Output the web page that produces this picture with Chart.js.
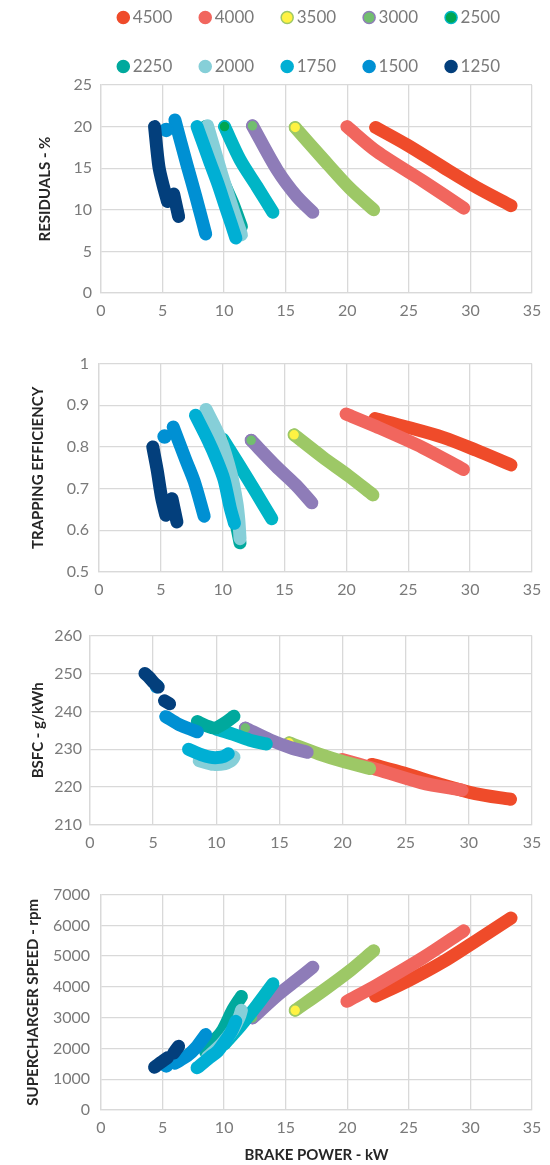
<!DOCTYPE html>
<html>
<head>
<meta charset="utf-8">
<script src="https://cdn.jsdelivr.net/npm/chart.js@4.4.1/dist/chart.umd.min.js"></script>
<style>
  body { margin: 0; background: #fff; width: 550px; height: 1165px; position: relative; overflow: hidden; }
  .box { position: absolute; left: 0; width: 550px; }
</style>
</head>
<body>
<div class="box" style="top:-23px;height:346px"><canvas id="residuals"></canvas></div>
<div class="box" style="top:344px;height:258px"><canvas id="trapping"></canvas></div>
<div class="box" style="top:618px;height:237px"><canvas id="bsfc"></canvas></div>
<div class="box" style="top:874px;height:291px"><canvas id="speed"></canvas></div>
<script>
// engine speeds (rpm), one series each
const seriesNames = ['4500', '4000', '3500', '3000', '2500', '2250', '2000', '1750', '1500', '1250'];

// brake power, kW (null = gap between pieces)
const power4500 = [22.3, 24.85, 27.8, 30.5, 33.3];
const power4000 = [19.97, 22.4, 26.2, 29.46];
const power3500 = [15.77, 18.1, 20.2, 22.14];
const power3000 = [12.3, 14.3, 15.9, 17.2];
const power2500 = [10.03, 11.3, 12.66, 13.96];
const power2250 = [8.5, 9.2, 9.9, 10.7, 11.4];
const power2000 = [8.65, 9.8, 10.7, 11.15, 11.3, 11.4];
const power1750 = [7.8, 8.8, 9.5, 10.1, 10.6, 10.95];
const power1500 = [5.3, null, 6.0, 7.0, 7.7, 8.5];
const power1250 = [4.35, 4.7, 5.05, 5.4, null, 5.9, 6.3];

// residuals, %
const res4500 = [19.9, 17.8, 15.1, 12.7, 10.5];
const res4000 = [20, 17, 13.4, 10.2];
const res3500 = [19.9, 16, 12.6, 10];
const res3000 = [20.1, 14.8, 11.6, 9.7];
const res2500 = [20, 16, 12.8, 9.7];
const res2250 = [20, 16.5, 13.5, 10.8, 8.0];
const res2000 = [20.1, 14.3, 10.1, 8.1, 7.5, 7.0];
const res1750 = [20, 15.9, 13.1, 10.4, 8.2, 6.6];
const res1500 = [19.6, null, 20.8, 15.3, 11.6, 7.1];
const res1250 = [20, 15.2, 12.9, 11.0, null, 11.9, 9.2];

// trapping efficiency
const trap4500 = [0.868, 0.848, 0.823, 0.792, 0.757];
const trap4000 = [0.879, 0.849, 0.798, 0.746];
const trap3500 = [0.829, 0.775, 0.73, 0.685];
const trap3000 = [0.816, 0.754, 0.709, 0.666];
const trap2500 = [0.818, 0.758, 0.692, 0.628];
const trap2250 = [0.87, 0.82, 0.76, 0.67, 0.57];
const trap2000 = [0.89, 0.82, 0.733, 0.665, 0.625, 0.58];
const trap1750 = [0.876, 0.817, 0.77, 0.722, 0.655, 0.617];
const trap1500 = [0.825, null, 0.848, 0.77, 0.717, 0.634];
const trap1250 = [0.80, 0.745, 0.68, 0.636, null, 0.676, 0.62];

// BSFC, g/kWh
const bsfc4500 = [226.0, 223.7, 220.7, 218.3, 216.8];
const bsfc4000 = [227.3, 225.0, 221.2, 219.2];
const bsfc3500 = [231.7, 228.8, 226.6, 224.9];
const bsfc3000 = [235.6, 232.4, 230.4, 229.2];
const bsfc2500 = [235.3, 234.0, 232.4, 231.4];
const bsfc2250 = [237.3, 236.2, 235.6, 237.0, 238.7];
const bsfc2000 = [227.0, 226.0, 226.2, 226.9, 227.4, 228.0];
const bsfc1750 = [230.0, 228.6, 227.9, 227.8, 228.1, 228.8];
const bsfc1500 = [246.6, null, 238.6, 236.6, 235.6, 234.6];
const bsfc1250 = [250.0, 248.9, 247.6, 246.4, null, 242.8, 242.0];

// supercharger speed, rpm
const rpm4500 = [3700, 4180, 4820, 5510, 6240];
const rpm4000 = [3531, 4060, 4960, 5823];
const rpm3500 = [3240, 3896, 4521, 5177];
const rpm3000 = [2990, 3720, 4230, 4640];
const rpm2500 = [2150, 2720, 3400, 4100];
const rpm2250 = [1880, 2250, 2600, 3250, 3690];
const rpm2000 = [1720, 2150, 2600, 2950, 3100, 3240];
const rpm1750 = [1370, 1700, 1920, 2250, 2560, 2880];
const rpm1500 = [1450, null, 1520, 1760, 2020, 2450];
const rpm1250 = [1390, 1500, 1600, 1700, null, 1850, 2070];

const powers = [power4500, power4000, power3500, power3000, power2500, power2250, power2000, power1750, power1500, power1250];
const residuals = [res4500, res4000, res3500, res3000, res2500, res2250, res2000, res1750, res1500, res1250];
const trapping = [trap4500, trap4000, trap3500, trap3000, trap2500, trap2250, trap2000, trap1750, trap1500, trap1250];
const bsfc = [bsfc4500, bsfc4000, bsfc3500, bsfc3000, bsfc2500, bsfc2250, bsfc2000, bsfc1750, bsfc1500, bsfc1250];
const speed = [rpm4500, rpm4000, rpm3500, rpm3000, rpm2500, rpm2250, rpm2000, rpm1750, rpm1500, rpm1250];

const lineColors = ['#ef4b2a', '#f1665e', '#9dc866', '#8e7cb8', '#00b5c6', '#00a99d', '#86cfd8', '#00afd4', '#0090d3', '#033f7c'];
const markerFills = ['#ef4b2a', '#f1665e', '#fff243', '#72be6f', '#00a651', '#00a99d', '#86cfd8', '#00afd4', '#0090d3', '#033f7c'];
const markerEdges = ['#ef4b2a', '#f1665e', '#9dc866', '#8e7cb8', '#00b5c6', '#00a99d', '#86cfd8', '#00afd4', '#0090d3', '#033f7c'];
const startMarker = [false, false, true, true, true, false, false, false, false, false];

const tickColor = '#7a7a7a';
const gridColor = '#d9d9d9';

function isolated(xs, k) {
  return xs[k] != null && (k === 0 || xs[k - 1] == null) && (k === xs.length - 1 || xs[k + 1] == null);
}

function buildDatasets(metric) {
  return seriesNames.map((name, i) => {
    const xs = powers[i];
    const ys = metric[i];
    return {
      label: name,
      data: xs.map((x, k) => ({ x: x, y: ys[k] })),
      showLine: true,
      borderColor: lineColors[i],
      borderWidth: 13,
      borderCapStyle: 'round',
      borderJoinStyle: 'round',
      tension: 0.3,
      spanGaps: false,
      pointStyle: 'circle',
      pointBackgroundColor: markerFills[i],
      pointBorderColor: markerEdges[i],
      pointBorderWidth: 1.5,
      pointRadius: ctx => {
        if (isolated(xs, ctx.dataIndex)) return 6.5;
        if (startMarker[i] && ctx.dataIndex === 0) return 5.5;
        return 0;
      },
      order: seriesNames.length - 1 - i
    };
  });
}

function makeChart(id, metric, cfg) {
  const titleFont = { family: 'Lato', size: 15, weight: 'bold' };
  const tickFont = { family: 'Lato', size: 16 };
  return new Chart(document.getElementById(id), {
    type: 'scatter',
    data: { datasets: buildDatasets(metric) },
    options: {
      responsive: true,
      maintainAspectRatio: false,
      animation: false,
      events: [],
      layout: { padding: { left: cfg.padLeft, right: 18, top: cfg.padTop, bottom: 0 } },
      plugins: {
        tooltip: { enabled: false },
        legend: cfg.legend ? {
          display: true,
          position: 'top',
          align: 'end',
          labels: {
            usePointStyle: true,
            boxWidth: 2,
            boxHeight: 8.5,
            padding: 32,
            color: tickColor,
            font: { family: 'Lato', size: 17 },
            sort: (a, b) => a.datasetIndex - b.datasetIndex
          }
        } : { display: false }
      },
      scales: {
        x: {
          type: 'linear',
          min: 0,
          max: 35,
          ticks: { stepSize: 5, padding: 8, color: tickColor, font: tickFont },
          grid: { color: gridColor, lineWidth: 1.3, drawTicks: false },
          border: { color: gridColor, width: 1.3 },
          title: cfg.xTitle ? {
            display: true, text: cfg.xTitle, color: '#262626', font: titleFont,
            padding: { top: 0, bottom: 1 }
          } : { display: false },
          afterFit: s => { s.height = cfg.xHeight; }
        },
        y: {
          type: 'linear',
          min: cfg.yMin,
          max: cfg.yMax,
          ticks: { stepSize: cfg.yStep, padding: cfg.tickPad, color: tickColor, font: tickFont, callback: cfg.fmt },
          grid: { color: gridColor, lineWidth: 1.3, drawTicks: false },
          border: { color: gridColor, width: 1.3 },
          title: {
            display: true, text: cfg.yTitle, color: '#262626', font: titleFont,
            padding: { top: cfg.titlePad, bottom: 0 }
          },
          afterFit: s => { s.width = cfg.yWidth; }
        }
      }
    }
  });
}

makeChart('residuals', residuals, {
  legend: true, padLeft: 20, padTop: 0, yWidth: 81, xHeight: 30, tickPad: 9, titlePad: 16,
  yMin: 0, yMax: 25, yStep: 5, yTitle: 'RESIDUALS - %', fmt: v => v
});
makeChart('trapping', trapping, {
  legend: false, padLeft: 0, padTop: 12, yWidth: 99, xHeight: 30, tickPad: 10, titlePad: 29,
  yMin: 0.5, yMax: 1, yStep: 0.1, yTitle: 'TRAPPING EFFICIENCY', fmt: v => String(Number(v.toFixed(1)))
});
makeChart('bsfc', bsfc, {
  legend: false, padLeft: 0, padTop: 12, yWidth: 90, xHeight: 30, tickPad: 8, titlePad: 29,
  yMin: 210, yMax: 260, yStep: 10, yTitle: 'BSFC - g/kWh', fmt: v => v
});
makeChart('speed', speed, {
  legend: false, padLeft: 0, padTop: 12, yWidth: 101, xHeight: 55, tickPad: 11, titlePad: 24,
  yMin: 0, yMax: 7000, yStep: 1000, yTitle: 'SUPERCHARGER SPEED - rpm', xTitle: 'BRAKE POWER - kW', fmt: v => v
});
</script>
</body>
</html>
